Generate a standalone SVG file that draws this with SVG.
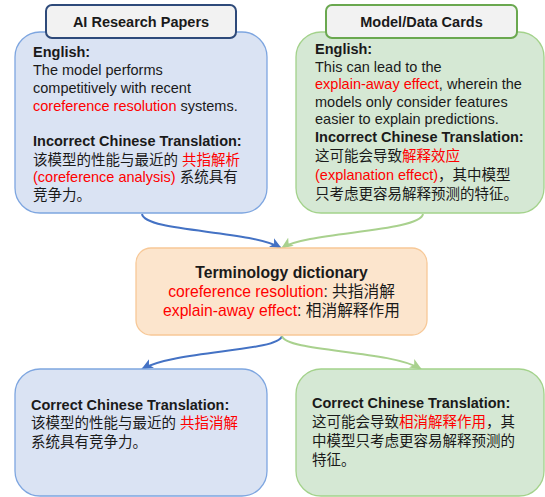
<svg xmlns="http://www.w3.org/2000/svg" width="545" height="497" viewBox="0 0 545 497">
<style>
text{font-family:"Liberation Sans","Noto Sans CJK SC",sans-serif;font-size:14.5px;fill:#1a1a1a}
.b{font-weight:bold}
.r{fill:#ff0000}
.c{text-anchor:middle}
.m{font-size:15.7px}
.blue{fill:#dae3f3;stroke:#7ea6e0;stroke-width:1.3}
.green{fill:#d5e8d4;stroke:#a3d28b;stroke-width:1.3}
.hd{fill:#f2f2f2;stroke-width:2}
.cb{fill:none;stroke:#4472c4;stroke-width:2}
.cg{fill:none;stroke:#a9d18e;stroke-width:2}
</style>
<defs>
<marker id="mb" viewBox="0 0 12 10" refX="11" refY="5" markerWidth="12" markerHeight="10" orient="auto" markerUnits="userSpaceOnUse"><path d="M0,0 L12,5 L0,10 L3,5 z" fill="#4472c4"/></marker>
<marker id="mg" viewBox="0 0 12 10" refX="11" refY="5" markerWidth="12" markerHeight="10" orient="auto" markerUnits="userSpaceOnUse"><path d="M0,0 L12,5 L0,10 L3,5 z" fill="#a9d18e"/></marker>
</defs>
<g id="connectors">
<path class="cb" d="M142,214 C145,232 250,230 281,248" marker-end="url(#mb)"/>
<path class="cg" d="M423,214 C420,232 305,232 282,248" marker-end="url(#mg)"/>
<path class="cb" d="M282,336 C278,352 175,350 142,369" marker-end="url(#mb)"/>
<path class="cg" d="M282,336 C286,352 390,350 421,369" marker-end="url(#mg)"/>
</g>
<g id="ai-papers">
<rect class="blue" x="15" y="32" width="252" height="181" rx="25"/>
<text x="33" y="57" class="b">English:</text>
<text x="33" y="75">The model performs</text>
<text x="33" y="93">competitively with recent</text>
<text x="33" y="111"><tspan class="r">coreference resolution</tspan> systems.</text>
<text x="33" y="146" class="b">Incorrect Chinese Translation:</text>
<text x="33" y="165">该模型的性能与最近的 <tspan class="r">共指解析</tspan></text>
<text x="33" y="182"><tspan class="r">(coreference analysis)</tspan> 系统具有</text>
<text x="33" y="200">竞争力。</text>
</g>
<g id="ai-papers-header">
<rect class="hd" x="46" y="5" width="190" height="33" rx="6" stroke="#2e4a7a"/>
<text x="141" y="27" class="b c">AI Research Papers</text>
</g>
<g id="model-cards">
<rect class="green" x="296" y="32" width="248" height="181" rx="25"/>
<text x="315" y="54" class="b">English:</text>
<text x="315" y="72">This can lead to the</text>
<text x="315" y="89"><tspan class="r">explain-away effect</tspan>, wherein the</text>
<text x="315" y="107">models only consider features</text>
<text x="315" y="124">easier to explain predictions.</text>
<text x="315" y="142" class="b">Incorrect Chinese Translation:</text>
<text x="315" y="161">这可能会导致<tspan class="r">解释效应</tspan></text>
<text x="315" y="180"><tspan class="r">(explanation effect)</tspan>，其中模型</text>
<text x="315" y="199">只考虑更容易解释预测的特征。</text>
</g>
<g id="model-cards-header">
<rect class="hd" x="326" y="5" width="191" height="33" rx="6" stroke="#6aa84f"/>
<text x="421.5" y="27" class="b c">Model/Data Cards</text>
</g>
<g id="dictionary">
<rect x="136" y="248" width="291" height="87" rx="15" fill="#fce5cd" stroke="#f7c897" stroke-width="1.3"/>
<text x="281.5" y="278" class="b c m">Terminology dictionary</text>
<text x="281.5" y="297" class="c m"><tspan class="r">coreference resolution</tspan>: 共指消解</text>
<text x="281.5" y="316" class="c m"><tspan class="r">explain-away effect</tspan>: 相消解释作用</text>
</g>
<g id="correct-left">
<rect class="blue" x="15" y="369" width="252" height="127" rx="25"/>
<text x="31" y="410" class="b">Correct Chinese Translation:</text>
<text x="31" y="428">该模型的性能与最近的 <tspan class="r">共指消解</tspan></text>
<text x="31" y="447">系统具有竞争力。</text>
</g>
<g id="correct-right">
<rect class="green" x="296" y="369" width="248" height="127" rx="25"/>
<text x="312" y="408" class="b">Correct Chinese Translation:</text>
<text x="312" y="427">这可能会导致<tspan class="r">相消解释作用</tspan>，其</text>
<text x="312" y="446">中模型只考虑更容易解释预测的</text>
<text x="312" y="465">特征。</text>
</g>
</svg>
